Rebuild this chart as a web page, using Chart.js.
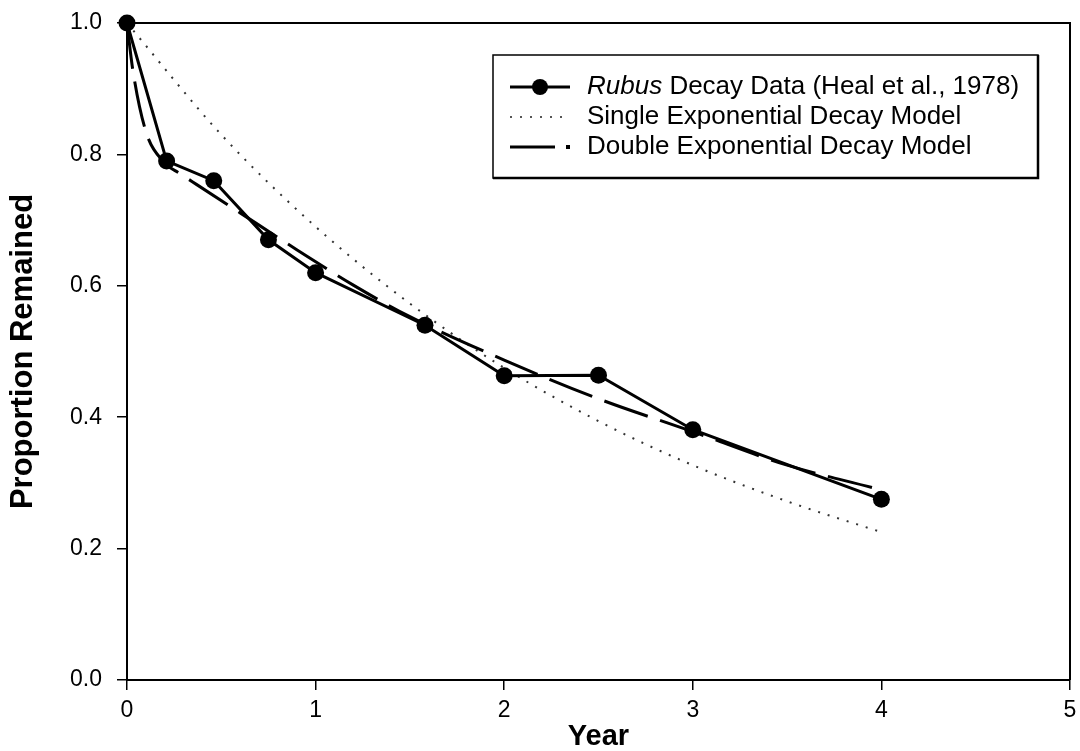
<!DOCTYPE html>
<html>
<head>
<meta charset="utf-8">
<title>Rubus decay</title>
<script src="https://cdn.jsdelivr.net/npm/chart.js@4.4.1/dist/chart.umd.min.js"></script>
<style>
  html, body { margin: 0; padding: 0; background: #fff; }
  #wrap { width: 1080px; height: 751px; }
</style>
</head>
<body>
<div id="wrap"><canvas id="decayChart" width="1080" height="751"></canvas></div>
<script>
// values
const dataYears = [0, 0.21, 0.46, 0.75, 1.0, 1.58, 2.0, 2.5, 3.0, 4.0];
const dataRemained = [1.0, 0.79, 0.76, 0.67, 0.62, 0.54, 0.463, 0.464, 0.381, 0.275];

const singleYears = [0, 0.5, 1, 1.5, 2, 2.5, 3, 3.5, 4];
const singleRemained = [1.0, 0.83, 0.69, 0.573, 0.475, 0.394, 0.327, 0.272, 0.225];

const doubleYears = [0, 0.03, 0.1, 0.2, 0.28, 0.37, 0.6, 0.9, 1.2, 1.5, 2.0, 2.5, 3.0, 3.5, 3.95];
const doubleRemained = [1.0, 0.93, 0.835, 0.787, 0.771, 0.754, 0.711, 0.655, 0.601, 0.553, 0.487, 0.428, 0.378, 0.327, 0.293];

const xTicks = [0, 1, 2, 3, 4, 5];
const yTicks = [0, 0.2, 0.4, 0.6, 0.8, 1.0];

const seriesNames = ['Rubus', 'Single Exponential Decay Model', 'Double Exponential Decay Model'];
const dataNameRest = ' Decay Data (Heal et al., 1978)';

const FONT = '"Liberation Sans", Arial, sans-serif';

const toPoints = (xs, ys) => xs.map((x, i) => ({ x, y: ys[i] }));

document.addEventListener('DOMContentLoaded', () => {
    const ctx = document.getElementById('decayChart').getContext('2d');

    // top and right border of the plot box
    const frame = {
        id: 'frame',
        beforeDatasetsDraw(chart) {
            const { ctx, chartArea } = chart;
            ctx.save();
            ctx.strokeStyle = '#000';
            ctx.lineWidth = 2;
            ctx.beginPath();
            ctx.moveTo(chartArea.left, chartArea.top);
            ctx.lineTo(chartArea.right, chartArea.top);
            ctx.lineTo(chartArea.right, chartArea.bottom);
            ctx.stroke();
            ctx.restore();
        }
    };

    const legendBox = {
        id: 'legendBox',
        afterDraw(chart) {
            const c = chart.ctx;
            const left = 493, top = 55, w = 545, h = 123;
            const x0 = 510, x1 = 570, tx = 587;
            const rows = [87, 117, 147];
            c.save();
            c.fillStyle = '#fff';
            c.fillRect(left, top, w, h);
            c.strokeStyle = '#000';
            c.lineWidth = 1.5;
            c.strokeRect(left, top, w, h);
            c.lineWidth = 2.5;
            c.beginPath();
            c.moveTo(left, top + h);
            c.lineTo(left + w, top + h);
            c.lineTo(left + w, top);
            c.stroke();

            // data sample
            c.lineWidth = 3;
            c.beginPath();
            c.moveTo(x0, rows[0]);
            c.lineTo(x1, rows[0]);
            c.stroke();
            c.fillStyle = '#000';
            c.beginPath();
            c.arc((x0 + x1) / 2, rows[0], 8, 0, Math.PI * 2);
            c.fill();

            // single model sample
            c.lineWidth = 2;
            c.strokeStyle = '#555';
            c.setLineDash([2, 8]);
            c.beginPath();
            c.moveTo(x0, rows[1]);
            c.lineTo(x1, rows[1]);
            c.stroke();
            c.setLineDash([]);

            // double model sample
            c.strokeStyle = '#000';
            c.lineWidth = 3;
            c.beginPath();
            c.moveTo(x0, rows[2]);
            c.lineTo(x0 + 45, rows[2]);
            c.stroke();
            c.fillRect(x1 - 4, rows[2] - 2, 4, 4);

            c.fillStyle = '#000';
            c.textBaseline = 'middle';
            c.textAlign = 'left';
            c.font = 'italic 26px ' + FONT;
            c.fillText(seriesNames[0], tx, rows[0]);
            const wItal = c.measureText(seriesNames[0]).width;
            c.font = '26px ' + FONT;
            c.fillText(dataNameRest, tx + wItal, rows[0]);
            c.fillText(seriesNames[1], tx, rows[1]);
            c.fillText(seriesNames[2], tx, rows[2]);
            c.restore();
        }
    };

    new Chart(ctx, {
        type: 'scatter',
        data: {
            datasets: [
                {
                    label: seriesNames[0] + dataNameRest,
                    data: toPoints(dataYears, dataRemained),
                    showLine: true,
                    borderColor: '#000',
                    backgroundColor: '#000',
                    borderWidth: 3,
                    pointRadius: 8.5,
                    pointBorderWidth: 0,
                    tension: 0,
                    clip: false,
                    order: 0
                },
                {
                    label: seriesNames[1],
                    data: toPoints(singleYears, singleRemained),
                    showLine: true,
                    borderColor: '#333',
                    borderWidth: 2,
                    borderDash: [2, 8],
                    pointRadius: 0,
                    cubicInterpolationMode: 'monotone',
                    clip: false,
                    order: 2
                },
                {
                    label: seriesNames[2],
                    data: toPoints(doubleYears, doubleRemained),
                    showLine: true,
                    borderColor: '#000',
                    borderWidth: 3,
                    borderDash: [46, 13],
                    pointRadius: 0,
                    cubicInterpolationMode: 'monotone',
                    clip: false,
                    order: 1
                }
            ]
        },
        options: {
            responsive: false,
            animation: false,
            devicePixelRatio: 1,
            layout: { padding: { left: 0, top: 23, right: 10, bottom: 0 } },
            plugins: {
                legend: { display: false },
                tooltip: { enabled: false }
            },
            scales: {
                x: {
                    type: 'linear',
                    min: 0,
                    max: 5,
                    afterBuildTicks: (s) => { s.ticks = xTicks.map(v => ({ value: v })); },
                    afterFit: (s) => {
                        s.height = 71;
                        s.paddingLeft = 0;
                        s.paddingRight = 0;
                    },
                    grid: { drawOnChartArea: false, drawTicks: true, tickLength: 10, color: '#000', lineWidth: 1.5 },
                    border: { display: true, color: '#000', width: 2 },
                    ticks: {
                        color: '#000',
                        padding: 7,
                        font: { family: FONT, size: 23 },
                        maxRotation: 0,
                        callback: (v) => String(v)
                    },
                    title: {
                        display: true,
                        text: 'Year',
                        color: '#000',
                        font: { family: FONT, size: 29, weight: 'bold', lineHeight: 1 },
                        padding: { top: 0, bottom: 0 }
                    }
                },
                y: {
                    type: 'linear',
                    min: 0,
                    max: 1,
                    afterBuildTicks: (s) => { s.ticks = yTicks.map(v => ({ value: v })); },
                    afterFit: (s) => {
                        s.width = 127;
                        s.paddingTop = 0;
                        s.paddingBottom = 0;
                    },
                    grid: { drawOnChartArea: false, drawTicks: true, tickLength: 10, color: '#000', lineWidth: 1.5 },
                    border: { display: true, color: '#000', width: 2 },
                    ticks: {
                        color: '#000',
                        padding: 15,
                        font: { family: FONT, size: 23 },
                        callback: (v) => v.toFixed(1)
                    },
                    title: {
                        display: true,
                        text: 'Proportion Remained',
                        color: '#000',
                        font: { family: FONT, size: 31, weight: 'bold', lineHeight: 1 },
                        padding: { top: 8, bottom: 0 }
                    }
                }
            }
        },
        plugins: [frame, legendBox]
    });
});
</script>
</body>
</html>
